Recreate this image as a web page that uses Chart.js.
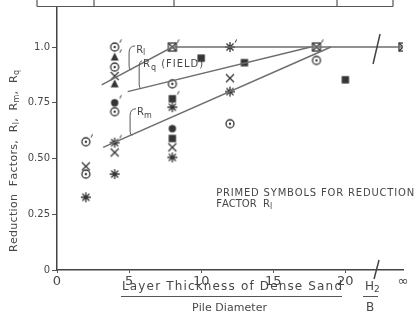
<!DOCTYPE html>
<html>
<head>
<meta charset="utf-8">
<script src="https://cdn.jsdelivr.net/npm/chart.js@4.4.1/dist/chart.umd.min.js"></script>
<style>
  html, body { margin: 0; padding: 0; background: #fff; }
  #wrap { width: 420px; height: 322px; position: relative; }
</style>
</head>
<body>
<div id="wrap"><canvas id="chart"></canvas></div>
<script>
// H2/B on x; 24 stands in for the "∞" position past the axis break
const xTicks = [0, 5, 10, 15, 20, 24];
const yTicks = [0, 0.25, 0.5, 0.75, 1.0];
const yTickLabels = ['0', '0.25', '0.50', '0.75', '1.0'];
const axisBreakAt = 22.2;

// open circle with centre dot
const circleX = [2, 2, 4, 4, 4, 8, 12, 18];
const circleY = [0.575, 0.43, 1.0, 0.91, 0.71, 0.835, 0.656, 0.94];
const circlePrimed = [true, false, true, false, false, false, false, false];

// filled triangle
const triX = [4, 4];
const triY = [0.955, 0.835];
const triPrimed = [true, false];

// cross
const crossX = [2, 4, 4, 8, 12];
const crossY = [0.465, 0.87, 0.527, 0.55, 0.86];

// asterisk
const starX = [2, 4, 4, 8, 8, 12, 12];
const starY = [0.326, 0.571, 0.43, 0.73, 0.505, 1.0, 0.80];
const starPrimed = [false, true, false, false, false, true, false];

// filled circle
const dotX = [4, 8];
const dotY = [0.75, 0.634];
const dotPrimed = [true, false];

// filled square
const squareX = [8, 8, 10, 13, 20];
const squareY = [0.768, 0.59, 0.95, 0.93, 0.853];
const squarePrimed = [true, false, false, false, false];

// square with cross
const boxX = [8, 18, 24];
const boxY = [1.0, 1.0, 1.0];
const boxPrimed = [true, true, false];

// drawn trend lines
const rlX = [3.1, 8, 24];
const rlY = [0.83, 1.0, 1.0];
const rqX = [4.9, 17.6];
const rqY = [0.80, 1.0];
const rmX = [3.2, 19];
const rmY = [0.55, 1.0];

const INK = '#353535';
const TEXT = '#474747';
const LINE = '#6e6e6e';

function symbol(kind, primed) {
  const c = document.createElement('canvas');
  c.width = 22;
  c.height = 22;
  const g = c.getContext('2d');
  g.strokeStyle = INK;
  g.fillStyle = INK;
  g.lineWidth = 1.3;
  const cx = 11, cy = 11, r = 4;
  g.beginPath();
  if (kind === 'circle') {
    g.arc(cx, cy, r, 0, 2 * Math.PI);
    g.stroke();
    g.beginPath();
    g.arc(cx, cy, 1.2, 0, 2 * Math.PI);
    g.fill();
  } else if (kind === 'dot') {
    g.arc(cx, cy, r - 0.3, 0, 2 * Math.PI);
    g.fill();
  } else if (kind === 'tri') {
    g.moveTo(cx, cy - r - 0.5);
    g.lineTo(cx + r, cy + r - 0.5);
    g.lineTo(cx - r, cy + r - 0.5);
    g.closePath();
    g.fill();
  } else if (kind === 'cross') {
    g.moveTo(cx - r, cy - r); g.lineTo(cx + r, cy + r);
    g.moveTo(cx + r, cy - r); g.lineTo(cx - r, cy + r);
    g.stroke();
  } else if (kind === 'star') {
    for (let k = 0; k < 4; k++) {
      const a = k * Math.PI / 4;
      g.moveTo(cx + 5 * Math.cos(a), cy + 5 * Math.sin(a));
      g.lineTo(cx - 5 * Math.cos(a), cy - 5 * Math.sin(a));
    }
    g.stroke();
    g.beginPath();
    g.arc(cx, cy, 1.7, 0, 2 * Math.PI);
    g.fill();
  } else if (kind === 'square') {
    g.fillRect(cx - r + 0.3, cy - r + 0.3, 2 * r - 0.6, 2 * r - 0.6);
  } else if (kind === 'box') {
    g.strokeRect(cx - r, cy - r, 2 * r, 2 * r);
    g.moveTo(cx - r, cy - r); g.lineTo(cx + r, cy + r);
    g.moveTo(cx + r, cy - r); g.lineTo(cx - r, cy + r);
    g.stroke();
  }
  if (primed) {
    g.beginPath();
    g.lineWidth = 1;
    g.moveTo(cx + r + 2.6, cy - r - 3.6);
    g.lineTo(cx + r + 1.2, cy - r - 0.4);
    g.stroke();
  }
  return c;
}

function pts(xs, ys) {
  return xs.map((x, i) => ({ x, y: ys[i] }));
}

function markers(xs, ys, kind, primed) {
  const flags = primed || xs.map(() => false);
  return {
    data: pts(xs, ys),
    pointStyle: flags.map((p) => symbol(kind, p)),
    pointRadius: 5,
    showLine: false,
  };
}

function trend(xs, ys) {
  return {
    data: pts(xs, ys),
    showLine: true,
    borderColor: LINE,
    borderWidth: 1.5,
    pointRadius: 0,
    fill: false,
  };
}

function lerp(xs, ys, v) {
  for (let i = 0; i < xs.length - 1; i++) {
    if (v >= xs[i] && v <= xs[i + 1]) {
      return ys[i] + (ys[i + 1] - ys[i]) * (v - xs[i]) / (xs[i + 1] - xs[i]);
    }
  }
  return ys[0];
}

// draws text runs (with subscripts) stretched to a given width
function drawRuns(g, runs, x, y, width, size) {
  const chars = [];
  runs.forEach((r) => {
    for (const ch of r.t) chars.push({ ch, sub: !!r.sub });
  });
  const font = (sub) => (sub ? Math.round(size * 0.75) : size) + "px 'DejaVu Sans'";
  let natural = 0;
  chars.forEach((c) => {
    g.font = font(c.sub);
    c.w = g.measureText(c.ch).width;
    natural += c.w;
  });
  const extra = width ? (width - natural) / (chars.length - 1) : 0;
  let cx = x;
  chars.forEach((c) => {
    g.font = font(c.sub);
    g.fillText(c.ch, cx, c.sub ? y + size * 0.3 : y);
    cx += c.w + extra;
  });
}

const decorations = {
  id: 'decorations',
  afterDatasetsDraw(chart) {
    const g = chart.ctx;
    const xs = chart.scales.x;
    const ys = chart.scales.y;
    g.save();

    // cut-off table frame at the top of the page
    g.strokeStyle = '#555';
    g.lineWidth = 1.2;
    g.beginPath();
    g.moveTo(37, 6.5); g.lineTo(393, 6.5);
    [37, 94, 174, 337, 393].forEach((v) => { g.moveTo(v, 0); g.lineTo(v, 6.5); });
    g.stroke();

    // axis break marks
    g.strokeStyle = '#444';
    g.lineWidth = 1.5;
    const bx = xs.getPixelForValue(axisBreakAt);
    const top = ys.getPixelForValue(1.0);
    const bot = ys.getPixelForValue(0);
    g.beginPath();
    g.moveTo(bx - 4, top + 17); g.lineTo(bx + 3, top - 13);
    g.moveTo(bx - 3, bot + 9); g.lineTo(bx + 2, bot - 10);
    g.stroke();

    // line labels with bracket leaders
    g.fillStyle = TEXT;
    g.strokeStyle = '#555';
    g.lineWidth = 1;
    g.textBaseline = 'middle';
    const labels = [
      { runs: [{ t: 'R' }, { t: 'l', sub: true }], at: [5.49, 0.987], leg: 5.0, lx: rlX, ly: rlY, w: 0 },
      { runs: [{ t: 'R' }, { t: 'q', sub: true }, { t: ' (FIELD)' }], at: [5.97, 0.92], leg: 5.7, lx: rqX, ly: rqY, w: 60 },
      { runs: [{ t: 'R' }, { t: 'm', sub: true }], at: [5.55, 0.705], leg: 5.07, lx: rmX, ly: rmY, w: 0 },
    ];
    labels.forEach((l) => {
      const tx = xs.getPixelForValue(l.at[0]);
      const ty = ys.getPixelForValue(l.at[1]);
      const lx = xs.getPixelForValue(l.leg);
      const lineY = ys.getPixelForValue(lerp(l.lx, l.ly, l.leg));
      drawRuns(g, l.runs, tx, ty, l.w, 10);
      g.beginPath();
      g.moveTo(tx - 1, ty - 4);
      g.quadraticCurveTo(lx, ty - 4, lx, ty + 3);
      g.lineTo(lx, lineY - 4);
      g.quadraticCurveTo(lx, lineY - 1, lx + 2, lineY);
      g.stroke();
    });

    // note about primed symbols
    const nx = xs.getPixelForValue(11.04);
    const ny = ys.getPixelForValue(0.344);
    drawRuns(g, [{ t: 'PRIMED SYMBOLS FOR REDUCTION' }], nx, ny, 198, 10);
    drawRuns(g, [{ t: 'FACTOR  R' }, { t: 'l', sub: true }], nx, ny + 11, 0, 10);

    // x title as a fraction
    drawRuns(g, [{ t: 'Layer Thickness of Dense Sand' }], 122, 286.5, 220, 12);
    drawRuns(g, [{ t: 'H' }, { t: '2', sub: true }], 365, 286.5, 0, 12);
    drawRuns(g, [{ t: 'Pile Diameter' }], 192, 308, 75, 11);
    drawRuns(g, [{ t: 'B' }], 366, 308, 0, 12);
    g.strokeStyle = '#555';
    g.beginPath();
    g.moveTo(121, 296.5); g.lineTo(342, 296.5);
    g.moveTo(363, 296.5); g.lineTo(378, 296.5);
    g.stroke();

    // y title, rotated
    g.translate(14, 252);
    g.rotate(-Math.PI / 2);
    drawRuns(g, [
      { t: 'Reduction  Factors,  R' }, { t: 'l', sub: true },
      { t: ',  R' }, { t: 'm', sub: true },
      { t: ',  R' }, { t: 'q', sub: true },
    ], 0, 0, 182, 11);
    g.restore();
  },
};

new Chart(document.getElementById('chart'), {
  type: 'scatter',
  data: {
    datasets: [
      trend(rlX, rlY),
      trend(rqX, rqY),
      trend(rmX, rmY),
      markers(circleX, circleY, 'circle', circlePrimed),
      markers(triX, triY, 'tri', triPrimed),
      markers(crossX, crossY, 'cross'),
      markers(starX, starY, 'star', starPrimed),
      markers(dotX, dotY, 'dot', dotPrimed),
      markers(squareX, squareY, 'square', squarePrimed),
      markers(boxX, boxY, 'box', boxPrimed),
    ],
  },
  options: {
    responsive: true,
    maintainAspectRatio: false,
    animation: false,
    events: [],
    layout: { padding: { top: 7, right: 17, left: 0, bottom: 0 } },
    plugins: {
      legend: { display: false },
      tooltip: { enabled: false },
    },
    scales: {
      x: {
        type: 'linear',
        min: 0,
        max: 24,
        afterBuildTicks(scale) {
          scale.ticks = xTicks.map((v) => ({ value: v }));
        },
        afterFit(scale) {
          scale.height = 52;
        },
        ticks: {
          autoSkip: false,
          maxRotation: 0,
          padding: 1,
          color: TEXT,
          font: { family: 'DejaVu Sans', size: 13 },
          callback(value) {
            return value === 24 ? '∞' : String(value);
          },
        },
        grid: {
          drawOnChartArea: false,
          tickLength: 3,
          color: (ctx) => (ctx.tick && ctx.tick.value === 24 ? 'rgba(0,0,0,0)' : '#555'),
        },
        border: { color: '#444', width: 1.5 },
      },
      y: {
        min: 0,
        max: 1.175,
        afterBuildTicks(scale) {
          scale.ticks = yTicks.map((v) => ({ value: v }));
        },
        afterFit(scale) {
          scale.width = 57;
        },
        ticks: {
          padding: 2,
          color: TEXT,
          font: { family: 'DejaVu Sans', size: 10 },
          callback(value, index) {
            return yTickLabels[index];
          },
        },
        grid: {
          drawOnChartArea: false,
          tickLength: 5,
          color: '#555',
        },
        border: { color: '#444', width: 1.5 },
      },
    },
  },
  plugins: [decorations],
});
</script>
</body>
</html>
